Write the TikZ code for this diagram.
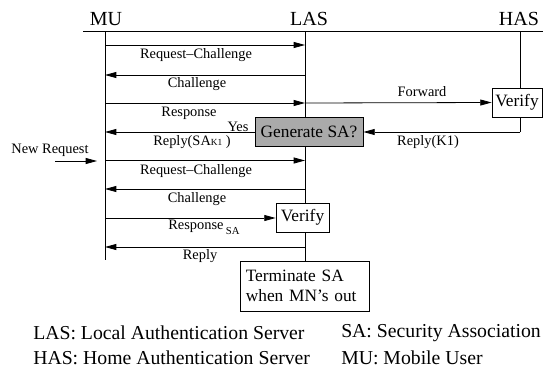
\documentclass[tikz,border=0pt]{standalone}
\usepackage{fontspec}
\setmainfont{Liberation Serif}
\usetikzlibrary{arrows.meta}
\begin{document}
\begin{tikzpicture}[x=0.75pt,y=-0.75pt,
  line/.style={line width=0.6pt},
  msg/.style={line width=0.6pt,-{Triangle[length=8.5pt,width=4.5pt]}},
  lbl/.style={font=\fontsize{10.8}{12}\selectfont,inner sep=0pt},
  head/.style={font=\fontsize{15}{17}\selectfont,inner sep=0pt},
  legend/.style={font=\fontsize{14.8}{17}\selectfont,inner sep=0pt,anchor=west},
  boxn/.style={draw,line width=0.6pt,font=\fontsize{13}{15}\selectfont,inner sep=0pt,minimum height=21.75pt}
]
\useasboundingbox (0,0) rectangle (543,372);
% headers
\node[head] (mu) at (106,19) {MU};
\node[head] (las) at (309,19) {LAS};
\node[head] (has) at (519,19) {HAS};
\coordinate (hl) at (83,31);
\coordinate (hr) at (543,31);
\draw[line] (hl) -- (hr);
% lifeline anchor points
\coordinate (mutop) at (105,31);
\coordinate (mubot) at (105,260);
\coordinate (lastop) at (305,31);
\coordinate (hastop) at (520,31);
\coordinate (hasbot) at (520,132);
% boxes
\node[boxn,fill={rgb,255:red,170;green,170;blue,170},minimum width=81pt] (gen) at (309,131.5) {Generate SA?};
\node[boxn,minimum width=37.5pt] (ver1) at (517,102.5) {Verify};
\node[boxn,minimum width=39.75pt] (ver2) at (302.5,217.5) {Verify};
\node[boxn,minimum width=96.75pt,minimum height=37.5pt,align=left,text width=88pt] (term) at (304.5,286) {Terminate SA\\when MN's out};
% lifelines
\draw[line] (mutop) -- (mubot);
\draw[line] (lastop) -- (lastop |- gen.north);
\draw[line] (lastop |- gen.south) -- (lastop |- ver2.north);
\draw[line] (lastop |- ver2.south) -- (lastop |- term.north);
\draw[line] (hastop) -- (hastop |- ver1.north);
\draw[line] (hastop |- ver1.south) -- (hasbot);
% messages
\coordinate (m1a) at (105,45);  \coordinate (m1b) at (305,45);
\draw[msg] (m1a) -- (m1b);
\node[lbl] (l1) at (196,55) {Request--Challenge};
\coordinate (m2a) at (305,75);  \coordinate (m2b) at (105,75);
\draw[msg] (m2a) -- (m2b);
\node[lbl] (l2) at (197,84.5) {Challenge};
\coordinate (m3a) at (105,103);  \coordinate (m3b) at (305,103);
\draw[msg] (m3a) -- (m3b);
\node[lbl] (l3) at (189,113) {Response};
\draw[msg] (m3b) -- (ver1.west);
\node[lbl] (l4) at (422,92) {Forward};
\coordinate (m5b) at (105,132);
\draw[msg] (gen.west |- m5b) -- (m5b);
\node[lbl] (l5) at (192,142) {Reply(SA{\fontsize{7}{8}\selectfont K1}\ )};
\node[lbl] (yes) at (238,126.5) {Yes};
\draw[msg] (hasbot) -- (gen.east |- hasbot);
\node[lbl] (l6) at (428,142) {Reply(K1)};
\coordinate (m7a) at (105,160.5);  \coordinate (m7b) at (305,160.5);
\draw[msg] (m7a) -- (m7b);
\node[lbl] (l7) at (196,171) {Request--Challenge};
\coordinate (m8a) at (305,189);  \coordinate (m8b) at (105,189);
\draw[msg] (m8a) -- (m8b);
\node[lbl] (l8) at (197,199) {Challenge};
\coordinate (m9a) at (105,218);
\draw[msg] (m9a) -- (ver2.west |- m9a);
\node[lbl] (l9) at (204,227) {Response\,\raisebox{-4pt}{\fontsize{8}{9}\selectfont SA}};
\coordinate (m10a) at (305,247);  \coordinate (m10b) at (105,247);
\draw[msg] (m10a) -- (m10b);
\node[lbl] (l10) at (200,256.5) {Reply};
% new request
\node[lbl] (nr) at (50,150) {New Request};
\coordinate (nra) at (55,161);
\coordinate (nrb) at (97,161);
\draw[msg] (nra) -- (nrb);
% legend
\node[legend] (g1) at (33,333) {LAS: Local Authentication Server};
\node[legend] (g2) at (33,358) {HAS: Home Authentication Server};
\node[legend] (g3) at (341,333) {SA: Security Association};
\node[legend] (g4) at (341,358) {MU: Mobile User};
\end{tikzpicture}
\end{document}
